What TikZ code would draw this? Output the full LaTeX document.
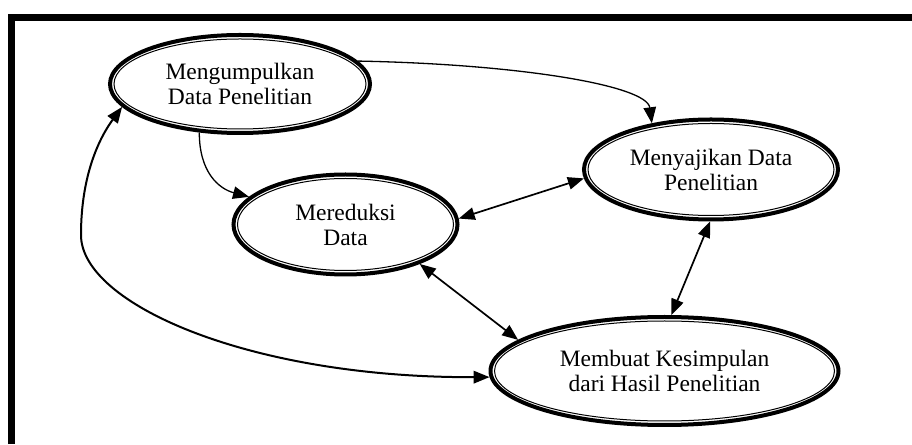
\documentclass[tikz,border=0pt]{standalone}
\usepackage{fontspec}
\setmainfont{Liberation Serif}
\usetikzlibrary{shapes.geometric,arrows.meta}

\begin{document}
\begin{tikzpicture}[x=1pt,y=1pt,
  proses/.style={ellipse, draw, line width=4pt, inner sep=0pt, align=center,
    font=\fontsize{23.5}{25}\selectfont},
  dalam/.style={line width=1pt},
  panah/.style={line width=1.7pt},
  tipis/.style={line width=1.3pt},
  >={Triangle[length=16pt,width=12.5pt]}]

\useasboundingbox (0,0) rectangle (912,444);
\draw[line width=6.8pt] (11.5,0) -- (11.5,426.7) -- (912,426.7);

\node[proses, minimum width=260pt, minimum height=98pt] (mk) at (240,360) {Mengumpulkan\\Data Penelitian};
\draw[dalam] (mk.center) ellipse (126 and 45);

\node[proses, minimum width=224pt, minimum height=100pt] (mr) at (345.5,219.5) {Mereduksi\\Data};
\draw[dalam] (mr.center) ellipse (108 and 46);

\node[proses, minimum width=254pt, minimum height=100pt] (ms) at (711,274.5) {Menyajikan Data\\Penelitian};
\draw[dalam] (ms.center) ellipse (123 and 46);

\node[proses, minimum width=348pt, minimum height=108pt] (mb) at (664.5,73) {Membuat Kesimpulan\\dari Hasil Penelitian};
\draw[dalam] (mb.center) ellipse (170 and 50);

\coordinate (kiri) at (81,209);

\draw[tipis,->] (mk.11) .. controls +(160,-3) and +(-5,38) .. (ms.142);
\draw[tipis,->] (mk.-130) .. controls +(0,-40) and +(-30,8) .. (mr.164);
\draw[panah,<->] (mr.3) -- (ms.184);
\draw[panah,<->] (mr.-28) -- (mb.168);
\draw[panah,<->] (ms.-91) -- (mb.83);
\draw[line width=2pt,<->] (mk.191) .. controls (100,307) and (81,270) .. (kiri)
  .. controls (81,140) and (250,66) .. (mb.182);

\end{tikzpicture}
\end{document}
